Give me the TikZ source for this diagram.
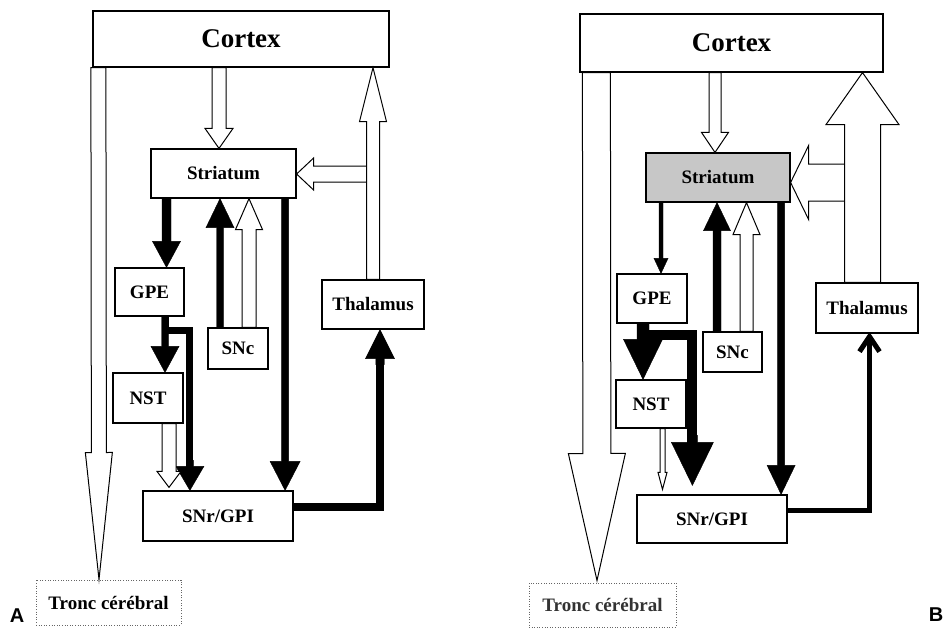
\documentclass[tikz,border=0pt]{standalone}
\usepackage{fontspec}
\setmainfont{Liberation Serif}
\newfontfamily\lsans{Liberation Sans}
\usetikzlibrary{calc}
\newcommand{\blockarr}[6][]{%
  \coordinate (bh) at ($(#3)!#6pt!(#2)$);
  \filldraw[#1] ($(#2)!#4pt!90:(#3)$) -- ($(bh)!#4pt!-90:(#2)$) -- ($(bh)!#5pt!-90:(#2)$) -- (#3) -- ($(bh)!#5pt!90:(#2)$) -- ($(bh)!#4pt!90:(#2)$) -- ($(#2)!#4pt!-90:(#3)$) -- cycle;}
\tikzset{
  box/.style={draw, line width=1.2pt, fill=white, inner sep=0pt, font=\fontsize{19}{22}\selectfont\bfseries},
  bigbox/.style={box, font=\fontsize{27}{30}\selectfont\bfseries},
  openarr/.style={fill=white, draw=black, line width=1pt, line join=miter},
  blackarr/.style={fill=black, draw=black, line width=0.4pt, line join=miter},
  elbow/.style={draw=black, line width=#1, line join=miter},
  troncbox/.style={box, draw=black!60, dash pattern=on 1pt off 1.6pt, line width=1pt},
  panellabel/.style={font=\lsans\bfseries\fontsize{20}{24}\selectfont, inner sep=0pt}
}
\begin{document}
\begin{tikzpicture}[x=1pt,y=-1pt]
\useasboundingbox (0,0) rectangle (948,630);
% ================= Panel A =================
\node[bigbox, minimum width=296pt, minimum height=56pt] (ctxA) at (241,39) {Cortex};
\node[box, minimum width=145pt, minimum height=49pt] (strA) at (223.5,173.5) {Striatum};
\node[box, minimum width=69pt, minimum height=48pt] (gpeA) at (149.5,292) {GPE};
\node[box, minimum width=60pt, minimum height=41pt] (sncA) at (238,348.5) {SNc};
\node[box, minimum width=70pt, minimum height=50pt] (nstA) at (148,398) {NST};
\node[box, minimum width=150pt, minimum height=50pt] (snrA) at (218,516) {SNr/GPI};
\node[box, minimum width=102pt, minimum height=49pt] (thaA) at (373,304.5) {Thalamus};
\node[troncbox, minimum width=145pt, minimum height=45pt] (troA) at (108.5,602.5) {Tronc cérébral};
\node[panellabel] (labA) at (17,616) {A};

\coordinate (a1s) at ($(ctxA.south west)+(6,0)$);
\coordinate (a1t) at ($(troA.north)+(-9.5,0)$);
\blockarr[openarr]{a1s}{a1t}{7.5}{13.5}{127}
\coordinate (a2s) at ($(strA.north |- ctxA.south)+(-4.5,0)$);
\coordinate (a2t) at ($(strA.north)+(-4.5,0)$);
\blockarr[openarr]{a2s}{a2t}{7}{14}{20}
\coordinate (a4s) at ($(thaA.north |- strA.east)+(-6.5,0.5)$);
\coordinate (a4t) at ($(strA.east)+(0,0.5)$);
\blockarr[openarr]{a4s}{a4t}{8}{16}{17}
\coordinate (a3s) at (thaA.north);
\coordinate (a3t) at (thaA.north |- ctxA.south);
\blockarr[openarr]{a3s}{a3t}{6.5}{13.5}{54}
\coordinate (a5s) at ($(gpeA.north |- strA.south)+(17,0)$);
\coordinate (a5t) at ($(gpeA.north)+(17,0)$);
\blockarr[blackarr]{a5s}{a5t}{4.5}{14}{26}
\coordinate (a6s) at ($(sncA.north)+(-18,0)$);
\coordinate (a6t) at (a6s |- strA.south);
\blockarr[blackarr]{a6s}{a6t}{3.5}{14}{29}
\coordinate (a7s) at ($(sncA.north)+(11,0)$);
\coordinate (a7t) at (a7s |- strA.south);
\blockarr[openarr]{a7s}{a7t}{7}{13.5}{31}
\coordinate (a8s) at ($(strA.south east)+(-11.5,0)$);
\coordinate (a8t) at (a8s |- snrA.north);
\blockarr[blackarr]{a8s}{a8t}{3.5}{15}{29}
\coordinate (a9s) at ($(gpeA.south)+(15.5,0)$);
\coordinate (a9t) at (a9s |- nstA.north);
\blockarr[blackarr]{a9s}{a9t}{3.5}{14}{26}
\coordinate (a10s) at ($(gpeA.south)+(16,0)$);
\coordinate (a10m) at ($(a10s)+(0,14)$);
\coordinate (a10t) at ($(snrA.north west)+(47.5,0)$);
\draw[elbow=7pt] (a10s) -- (a10m) -| ($(a10t)+(0,-22)$);
\blockarr[blackarr]{$(a10t)+(0,-30)$}{a10t}{3.5}{14}{24}
\coordinate (a11s) at ($(nstA.south)+(21,0)$);
\coordinate (a11t) at ($(a11s |- snrA.north)+(0,-3)$);
\blockarr[openarr]{a11s}{a11t}{7}{12}{16}
\coordinate (a12s) at ($(snrA.east)+(0,-9)$);
\coordinate (a12t) at ($(thaA.south)+(7,0)$);
\draw[elbow=8.5pt] (a12s) -| ($(a12t)+(0,27)$);
\blockarr[blackarr]{$(a12t)+(0,35)$}{a12t}{4.25}{14.5}{29}

% ================= Panel B =================
\node[bigbox, minimum width=303pt, minimum height=58pt] (ctxB) at (731.5,43) {Cortex};
\node[box, fill=black!22, minimum width=144pt, minimum height=49pt] (strB) at (718,177.5) {Striatum};
\node[box, minimum width=70pt, minimum height=49pt] (gpeB) at (652,298.5) {GPE};
\node[box, minimum width=59pt, minimum height=40pt] (sncB) at (732.5,352) {SNc};
\node[box, minimum width=70pt, minimum height=48pt] (nstB) at (651,404) {NST};
\node[box, minimum width=150pt, minimum height=48pt] (snrB) at (712,519) {SNr/GPI};
\node[box, minimum width=102pt, minimum height=50pt] (thaB) at (867,308) {Thalamus};
\node[troncbox, text=black!80, minimum width=147pt, minimum height=44pt] (troB) at (602.5,605) {Tronc cérébral};
\node[panellabel] (labB) at (936,615) {B};

\coordinate (b1s) at ($(ctxB.south west)+(17,0)$);
\coordinate (b1t) at ($(troB.north)+(-5.5,-2)$);
\blockarr[openarr]{b1s}{b1t}{14}{28.5}{127}
\coordinate (b2s) at ($(strB.north |- ctxB.south)+(-3,0)$);
\coordinate (b2t) at ($(strB.north)+(-3,0)$);
\blockarr[openarr]{b2s}{b2t}{6}{13.5}{20}
\coordinate (b3s) at ($(thaB.north)+(-4.5,0)$);
\coordinate (b3t) at (b3s |- ctxB.south);
\coordinate (b4s) at ($(b3s |- strB.east)+(-17.5,5)$);
\coordinate (b4t) at ($(strB.east)+(0,5)$);
\blockarr[openarr]{b4s}{b4t}{18.5}{37}{18}
\blockarr[openarr]{b3s}{b3t}{18}{36.5}{52}
\coordinate (b5s) at ($(gpeB.north |- strB.south)+(9,0)$);
\coordinate (b5t) at ($(gpeB.north)+(9,0)$);
\blockarr[blackarr]{b5s}{b5t}{2}{7}{15}
\coordinate (b6s) at ($(sncB.north)+(-15.5,0)$);
\coordinate (b6t) at (b6s |- strB.south);
\blockarr[blackarr]{b6s}{b6t}{4}{13.5}{28}
\coordinate (b7s) at ($(sncB.north)+(14,0)$);
\coordinate (b7t) at (b7s |- strB.south);
\blockarr[openarr]{b7s}{b7t}{6.5}{13.5}{32}
\coordinate (b8s) at ($(strB.south east)+(-9.5,0)$);
\coordinate (b8t) at (b8s |- snrB.north);
\blockarr[blackarr]{b8s}{b8t}{3.5}{14}{29}
\coordinate (b9s) at ($(gpeB.south)+(-9,0)$);
\coordinate (b9t) at (b9s |- nstB.north);
\blockarr[blackarr]{b9s}{b9t}{6}{19.5}{40}
\coordinate (b10s) at ($(gpeB.south)+(-9,0)$);
\coordinate (b10m) at ($(b10s)+(0,11)$);
\coordinate (b10t) at ($(snrB.north west)+(56,-9)$);
\draw[elbow=10pt] (b10s) -- (b10m) -| ($(b10t)+(0,-40)$);
\blockarr[blackarr]{$(b10t)+(0,-50)$}{b10t}{5}{21}{43}
\coordinate (b11s) at ($(nstB.south)+(11.5,0)$);
\coordinate (b11t) at ($(b11s |- snrB.north)+(0,-5)$);
\blockarr[openarr]{b11s}{b11t}{2.5}{4.5}{17}
\coordinate (b12s) at ($(snrB.east)+(0,-9)$);
\coordinate (b12t) at ($(thaB.south)+(2.5,0)$);
\draw[elbow=5pt] (b12s) -| ($(b12t)+(0,3)$);
\draw[elbow=5pt] ($(b12t)+(-10,18)$) -- ($(b12t)+(0,3)$) -- ($(b12t)+(10,18)$);
\end{tikzpicture}
\end{document}
